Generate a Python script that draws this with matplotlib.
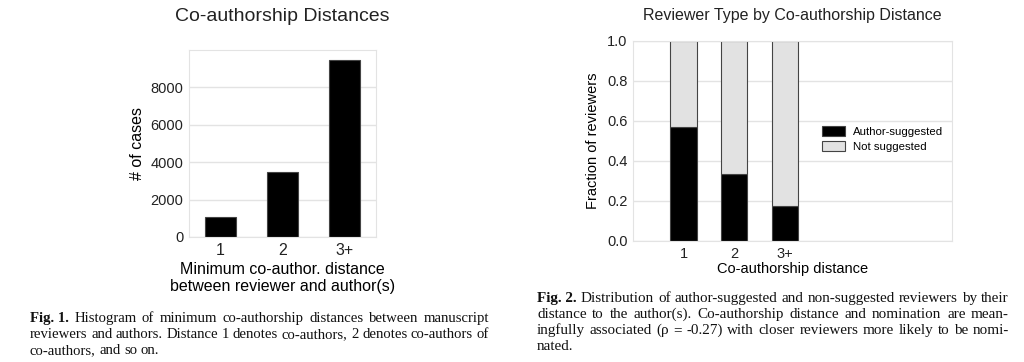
import matplotlib
matplotlib.use("Agg")
import matplotlib.pyplot as plt
import numpy as np

# Fig. 1 data
distances = ["1", "2", "3+"]
case_counts = [1085, 3480, 9475]

# Fig. 2 data
suggested_frac = [0.568, 0.335, 0.177]
not_suggested_frac = [1 - v for v in suggested_frac]

caption1 = [
    ("Fig. 1.", " Histogram of minimum co-authorship distances between manuscript"),
    ("", "reviewers and authors. Distance 1 denotes co-authors, 2 denotes co-authors of"),
    ("", "co-authors, and so on."),
]
caption2 = [
    ("Fig. 2.", " Distribution of author-suggested and non-suggested reviewers by their"),
    ("", "distance to the author(s). Co-authorship distance and nomination are mean-"),
    ("", "ingfully associated (\u03c1 = -0.27) with closer reviewers more likely to be nomi-"),
    ("", "nated."),
]

plt.rcParams["font.family"] = ["Liberation Sans", "DejaVu Sans"]
W, H = 1024, 362
fig = plt.figure(figsize=(W / 100, H / 100), dpi=100)


def px_axes(x0, y0, x1, y1):
    return fig.add_axes([x0 / W, 1 - y1 / H, (x1 - x0) / W, (y1 - y0) / H])


def style(ax):
    ax.set_axisbelow(True)
    ax.grid(axis="y", color="#e3e3e3", linewidth=1)
    for s in ax.spines.values():
        s.set_color("#e3e3e3")
    ax.tick_params(length=0, colors="#222222", pad=4)


# --- Left: histogram ---
ax1 = px_axes(189, 50, 376, 237)
x = np.arange(len(distances))
ax1.bar(x, case_counts, width=0.5, color="black", edgecolor="#444444", linewidth=0.8)
ax1.set_xlim(-0.5, 2.5)
ax1.set_ylim(0, 10000)
ax1.set_yticks([0, 2000, 4000, 6000, 8000])
ax1.set_xticks(x)
ax1.set_xticklabels(distances, fontsize=11.5)
ax1.tick_params(axis="y", labelsize=10.5)
style(ax1)
ax1.set_ylabel("# of cases", fontsize=11.5, labelpad=4)
ax1.set_xlabel("Minimum co-author. distance\nbetween reviewer and author(s)",
               fontsize=11.5, labelpad=3, linespacing=1.15)
ax1.set_title("Co-authorship Distances", fontsize=14, pad=21, color="#222222")

# --- Right: stacked fractions ---
ax2 = px_axes(633, 41, 952, 241)
x2 = np.arange(1, len(distances) + 1)
ax2.bar(x2, suggested_frac, width=0.52, color="black", edgecolor="#444444",
        linewidth=0.8, label="Author-suggested")
ax2.bar(x2, not_suggested_frac, width=0.52, bottom=suggested_frac, color="#e2e2e2",
        edgecolor="#444444", linewidth=0.8, label="Not suggested")
ax2.set_xlim(0, 6.3)
ax2.set_ylim(0, 1.0)
ax2.set_yticks([0, 0.2, 0.4, 0.6, 0.8, 1.0])
ax2.set_yticklabels(["0.0", "0.2", "0.4", "0.6", "0.8", "1.0"])
ax2.set_xticks(x2)
ax2.set_xticklabels(distances)
ax2.tick_params(labelsize=10.5)
ax2.tick_params(axis="x", pad=5)
style(ax2)
ax2.set_ylabel("Fraction of reviewers", fontsize=10.5, labelpad=5)
ax2.set_xlabel("Co-authorship distance", fontsize=10.5, labelpad=1)
ax2.set_title("Reviewer Type by Co-authorship Distance", fontsize=11.5, pad=15,
              color="#222222")
ax2.legend(loc="center left", bbox_to_anchor=(0.56, 0.51), frameon=False,
           fontsize=8.2, handlelength=2.0, handleheight=1.0, labelspacing=0.35,
           handletextpad=0.7)


# --- Captions ---
def caption(lines, x0, x1, y0, size, justify_last=False):
    renderer = fig.canvas.get_renderer()
    for i, (bold, rest) in enumerate(lines):
        y = 1 - (y0 + i * 16) / H
        words = rest.split()
        items = []
        if bold:
            items.append((bold, "bold"))
        items += [(w, "normal") for w in words]
        texts = [fig.text(0, y, w, fontsize=size, family="Liberation Serif",
                          weight=wt, va="baseline", color="#111111")
                 for w, wt in items]
        widths = [t.get_window_extent(renderer).width for t in texts]
        last = i == len(lines) - 1
        if last and not justify_last:
            space = 3.5
        else:
            space = (x1 - x0 - sum(widths)) / max(len(texts) - 1, 1)
        cx = x0
        for t, wd in zip(texts, widths):
            t.set_x(cx / W)
            cx += wd + space


caption(caption1, 30, 489, 322, 10.6)
caption(caption2, 537, 1009, 302, 10.9)

fig.savefig("out.png", dpi=100)
